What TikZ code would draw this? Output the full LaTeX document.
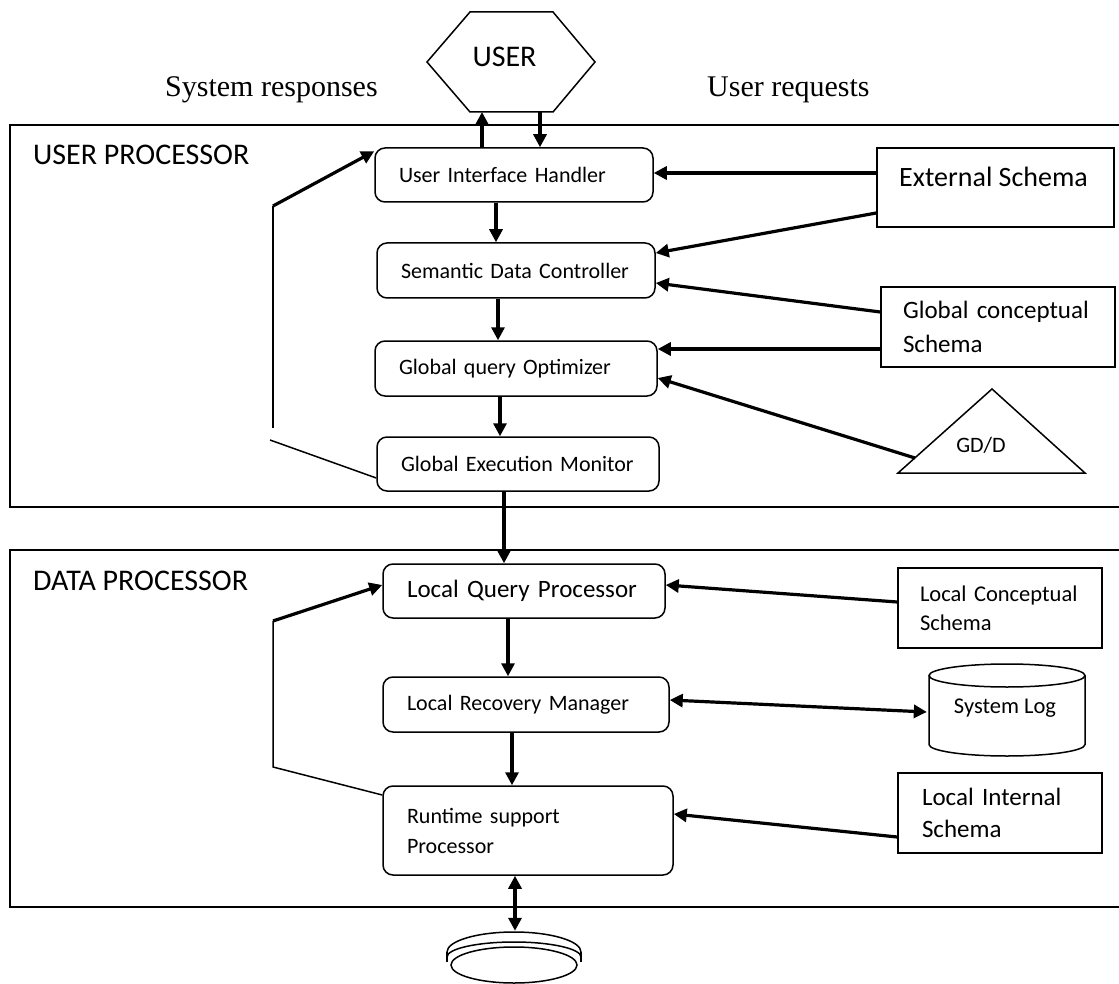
\documentclass[tikz,border=0pt]{standalone}
\usepackage{fontspec}
\setmainfont{Carlito}
\newfontfamily\tnr{Liberation Serif}
\usetikzlibrary{arrows.meta}
\tikzset{
  proc/.style={draw, line width=1.5pt, rounded corners=10pt, align=left, inner xsep=24pt, inner ysep=0pt, font=\fontsize{22}{30}\selectfont},
  schema/.style={draw, line width=1.5pt, align=left, inner xsep=22pt, inner ysep=0pt},
  arr/.style={line width=3.2pt, -{Triangle[length=13pt,width=13pt]}},
  darr/.style={line width=3.2pt, {Triangle[length=13pt,width=13pt]}-{Triangle[length=13pt,width=13pt]}},
  thinln/.style={line width=1.5pt},
  title/.style={anchor=base west, inner sep=0pt, font=\fontsize{30}{36}\selectfont},
  serif/.style={anchor=base west, inner sep=0pt, font=\tnr\fontsize{30}{36}\selectfont},
}
\begin{document}
\begin{tikzpicture}[x=1pt,y=-1pt]
\useasboundingbox (0,0) rectangle (1119,984);

% frames
\draw[thinln] (1119,125) -- (10,125) -- (10,507) -- (1119,507);
\draw[thinln] (1119,550) -- (10,550) -- (10,907) -- (1119,907);

% titles
\node[title] (UP) at (33,165) {USER PROCESSOR};
\node[title] (DP) at (33,590) {DATA PROCESSOR};
\node[serif] (SR) at (165,97) {System responses};
\node[serif] (UR) at (707,97) {User requests};

% user hexagon
\draw[thinln] (427,62) -- (470,12) -- (553,12) -- (595,62) -- (553,112) -- (470,112) -- cycle;
\node[font=\fontsize{30}{36}\selectfont] (USER) at (504.5,57) {USER};
\coordinate (ub1) at (482,112);
\coordinate (ub2) at (540,112);

% process boxes
\node[proc, text width=230pt, minimum height=54pt] (UIH) at (514,175) {User Interface Handler};
\node[proc, text width=230pt, minimum height=55pt] (SDC) at (516,270.5) {Semantic Data Controller};
\node[proc, text width=234pt, minimum height=55pt] (GQO) at (516,368.5) {Global query Optimizer};
\node[proc, text width=234pt, minimum height=54pt] (GEM) at (518,464) {Global Execution Monitor};
\node[proc, text width=234pt, minimum height=54pt, font=\fontsize{25}{30}\selectfont] (LQP) at (524,591) {Local Query Processor};
\node[proc, text width=238pt, minimum height=55pt] (LRM) at (526,704.5) {Local Recovery Manager};
\node[proc, text width=242pt, minimum height=89pt] (RSP) at (528,830.5) {Runtime support\\Processor};

% schema boxes
\node[schema, minimum width=237pt, minimum height=79pt] (ES) at (995.5,187.5) {};
\node[anchor=west, inner sep=0pt, font=\fontsize{28}{34}\selectfont] (ESt) at (899,177) {External Schema};
\node[schema, text width=190pt, minimum height=80pt, font=\fontsize{25}{34}\selectfont] (GCS) at (998,327) {Global conceptual\\Schema};
\node[schema, text width=160pt, minimum height=80pt, font=\fontsize{22.5}{29}\selectfont] (LCS) at (1000,608) {Local Conceptual\\Schema};
\node[schema, inner xsep=24pt, text width=156pt, minimum height=80pt, font=\fontsize{25}{32}\selectfont] (LIS) at (1000,813) {Local Internal\\Schema};

% GD/D triangle
\draw[thinln] (992,389) -- (1085,473) -- (898,473) -- cycle;
\node[font=\fontsize{22}{26}\selectfont] (GDD) at (981,445) {GD/D};
\coordinate (gdds) at (915,458);

% System log cylinder
\node[minimum width=156pt, minimum height=92pt, inner sep=0pt, font=\fontsize{22.5}{28}\selectfont] (SL) at (1005,708) {System Log};
\draw[thinln] (1007,675.5) ellipse[x radius=78pt, y radius=11.5pt];
\draw[thinln] (929,675.5) -- (929,744.5) arc[start angle=180, end angle=360, x radius=78pt, y radius=11.5pt] -- (1085,675.5);

% disk
\node[minimum width=134pt, minimum height=52pt, inner sep=0pt] (disk) at (514,957) {};
\draw[thinln] (447,952) arc[start angle=180, end angle=0, x radius=67pt, y radius=20pt];
\draw[thinln] (447,957) arc[start angle=180, end angle=0, x radius=67pt, y radius=15pt];
\draw[thinln] (447,952) -- (447,962);
\draw[thinln] (581,952) -- (581,962);
\draw[thinln, fill=white] (514,965) ellipse[x radius=63pt, y radius=18pt];

% user arrows
\draw[arr] ([xshift=-32pt]UIH.north) -- (ub1);
\draw[arr] (ub2) -- ([xshift=26pt]UIH.north);

% main chain
\draw[arr] ([xshift=-18pt]UIH.south) -- ([xshift=-20pt]SDC.north);
\draw[arr] ([xshift=-18pt]SDC.south) -- ([xshift=-18pt]GQO.north);
\draw[arr] ([xshift=-16pt]GQO.south) -- ([xshift=-18pt]GEM.north);
\draw[arr] ([xshift=-14pt]GEM.south) -- ([xshift=-20pt]LQP.north);
\draw[arr] ([xshift=-16pt]LQP.south) -- ([xshift=-18pt]LRM.north);
\draw[arr] ([xshift=-14pt]LRM.south) -- ([xshift=-16pt]RSP.north);
\draw[darr] ([xshift=-13pt]RSP.south) -- ([xshift=1pt]disk.north);

% schema arrows
\draw[arr] ([yshift=14.5pt]ES.west) -- ([yshift=2pt]UIH.east);
\draw[arr] ([yshift=-25.5pt]ES.west) -- ([yshift=17.5pt]SDC.east);
\draw[arr] ([yshift=15pt]GCS.west) -- ([yshift=-12.5pt]SDC.east);
\draw[arr] ([yshift=-22pt]GCS.west) -- ([yshift=19.5pt]GQO.east);
\draw[arr] (gdds) -- ([yshift=-9.5pt]GQO.east);
\draw[arr] ([yshift=6pt]LCS.west) -- ([yshift=6pt]LQP.east);
\draw[darr] ([yshift=4.5pt]LRM.east) -- ([yshift=-4pt]SL.west);
\draw[arr] ([yshift=-24pt]LIS.west) -- ([yshift=16.5pt]RSP.east);

% feedback loops
\coordinate (fa) at (273,206);
\coordinate (fb) at (273,428);
\coordinate (fc) at (270,440);
\draw[arr] (fa) -- ([yshift=-4pt]UIH.north west);
\draw[thinln] (fa) -- (fb);
\draw[thinln] (fc) -- ([yshift=-14pt]GEM.west);
\coordinate (fd) at (273,621);
\coordinate (fe) at (273,767);
\draw[arr] (fd) -- ([yshift=6pt]LQP.west);
\draw[thinln] (fd) -- (fe) -- ([yshift=35.5pt]RSP.west);
\end{tikzpicture}
\end{document}
